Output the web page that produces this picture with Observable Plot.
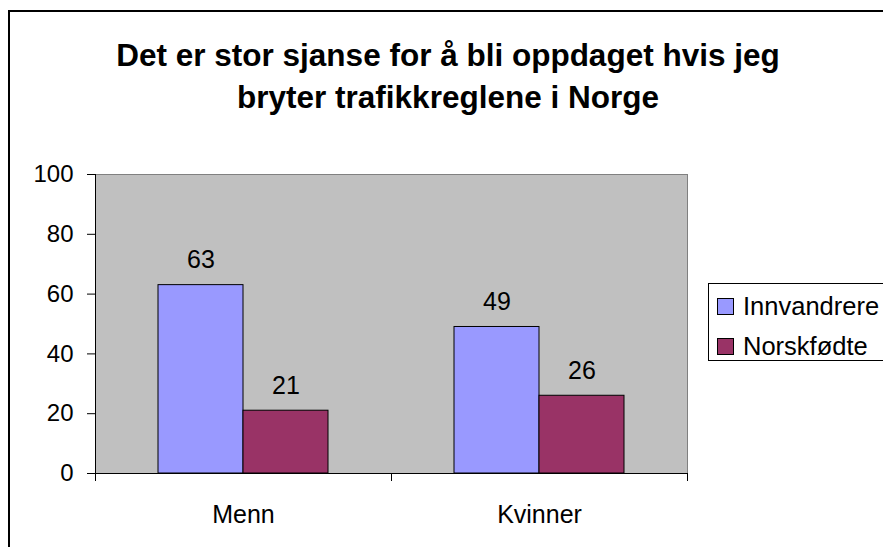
<!DOCTYPE html>
<html>
<head>
<meta charset="utf-8">
<script src="https://cdn.jsdelivr.net/npm/d3@7"></script>
<script src="https://cdn.jsdelivr.net/npm/@observablehq/plot@0.6"></script>
<style>
  html, body { margin: 0; padding: 0; background: #fff; }
  #wrap { position: relative; width: 883px; height: 547px; overflow: hidden; font-family: "Liberation Sans", Arial, sans-serif; color: #000; }
  #frame { position: absolute; left: 8px; top: 10px; width: 1000px; height: 1000px; border-left: 2px solid #000; border-top: 2px solid #000; pointer-events: none; z-index: 5; }
  #title { position: absolute; left: 13px; width: 870px; top: 34px; text-align: center; font-weight: bold; font-size: 31.5px; line-height: 42px; }
  #chart { position: absolute; left: 0; top: 150px; }
  #legend { position: absolute; left: 708px; top: 283px; width: 180px; height: 78px; border: 1px solid #000; box-sizing: border-box; background: #fff; }
  .row { position: absolute; left: 8px; display: flex; align-items: center; font-size: 25.5px; height: 30px; }
  .sw { width: 15px; height: 15px; border: 1px solid #000; margin-right: 9px; }
</style>
</head>
<body>
<div id="wrap">
  <div id="title"></div>
  <div id="chart"></div>
  <div id="legend"></div>
  <div id="frame"></div>
</div>
<script>
const titleLines = ["Det er stor sjanse for å bli oppdaget hvis jeg", "bryter trafikkreglene i Norge"];
const categories = ["Menn", "Kvinner"];
const series = ["Innvandrere", "Norskfødte"];
const innvandrere = [63, 49];
const norskfodte = [21, 26];
const colors = ["#9999FF", "#993366"];
const yTicks = [0, 20, 40, 60, 80, 100];

document.getElementById("title").innerHTML = titleLines.join("<br>");

const rows = [];
categories.forEach((c, i) => {
  rows.push({cat: c, idx: i, series: series[0], value: innvandrere[i]});
  rows.push({cat: c, idx: i, series: series[1], value: norskfodte[i]});
});

const barW = 85;
const plotW = 883 - 95 - 196;
const band = plotW / categories.length;
const half = band / 2;

const marks = [
  Plot.frame({fill: "#C0C0C0", stroke: "#808080"}),
];
series.forEach((s, si) => {
  const data = rows.filter(d => d.series === s);
  marks.push(Plot.rectY(data, {
    x1: d => d.idx, x2: d => d.idx + 1, y: "value",
    fill: colors[si], stroke: "#000", strokeWidth: 1,
    insetLeft: si === 0 ? half - barW : half,
    insetRight: si === 0 ? half : half - barW
  }));
  marks.push(Plot.text(data, {
    x: d => d.idx + 0.5, y: "value", text: d => String(d.value),
    dx: si === 0 ? -barW / 2 : barW / 2, dy: -25, fontSize: 25, fill: "#000"
  }));
});
marks.push(
  Plot.ruleX([0], {stroke: "#000"}),
  Plot.ruleY([0], {stroke: "#000"}),
  Plot.axisY({ticks: yTicks, tickSize: 8, tickPadding: 14, fontSize: 24, stroke: "#000", fill: "#000", label: null}),
  Plot.axisX({ticks: d3.range(categories.length + 1), tickSize: 8, tickFormat: () => "", stroke: "#000", label: null}),
  Plot.axisX({ticks: categories.map((_, i) => i + 0.5), tickSize: 0, tickPadding: 32,
    tickFormat: d => categories[Math.floor(d)], fontSize: 25, fill: "#000", label: null})
);

const chart = Plot.plot({
  width: 883,
  height: 397,
  marginLeft: 95,
  marginRight: 196,
  marginTop: 24,
  marginBottom: 74,
  style: {background: "transparent", fontFamily: "Liberation Sans, Arial, sans-serif", color: "#000", overflow: "visible"},
  x: {type: "linear", domain: [0, categories.length], axis: null},
  y: {domain: [0, 100], axis: null},
  marks
});
document.getElementById("chart").appendChild(chart);

const legend = document.getElementById("legend");
series.forEach((s, i) => {
  const r = document.createElement("div");
  r.className = "row";
  r.style.top = (7 + i * 40) + "px";
  const sw = document.createElement("div");
  sw.className = "sw";
  sw.style.background = colors[i];
  r.appendChild(sw);
  const t = document.createElement("span");
  t.textContent = s;
  r.appendChild(t);
  legend.appendChild(r);
});
</script>
</body>
</html>
